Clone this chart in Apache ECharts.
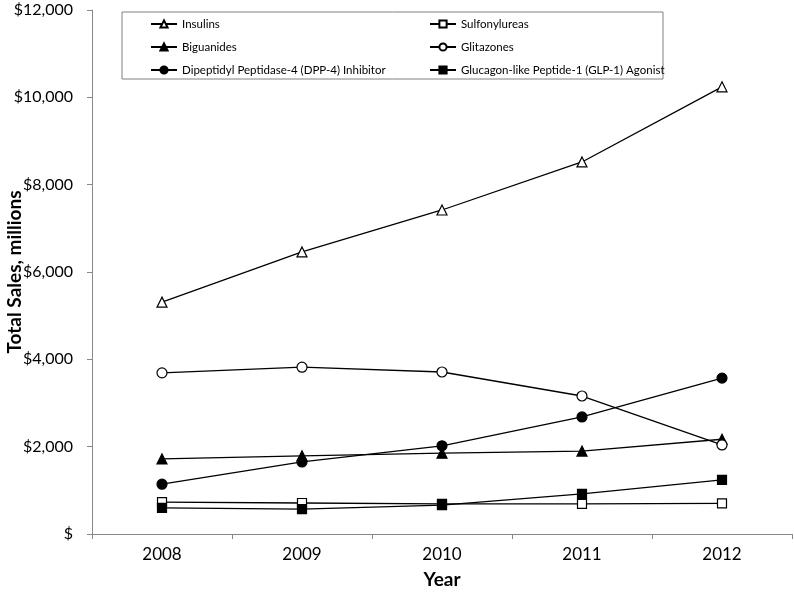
<!DOCTYPE html>
<html><head><meta charset="utf-8">
<script src="https://cdn.jsdelivr.net/npm/echarts@6/dist/echarts.min.js"></script>
<style>html,body{margin:0;padding:0;background:#fff}#c{width:794px;height:595px}</style>
</head><body><div id="c"></div>
<script>
const years = ['2008','2009','2010','2011','2012'];
const insulins = [5310, 6460, 7420, 8520, 10240];
const sulfonylureas = [730, 710, 690, 690, 700];
const biguanides = [1720, 1790, 1850, 1900, 2170];
const glitazones = [3690, 3820, 3710, 3160, 2040];
const dpp4 = [1140, 1650, 2020, 2680, 3570];
const glp1 = [600, 570, 660, 920, 1240];
const yTicks = [0, 2000, 4000, 6000, 8000, 10000, 12000];

const FONT = 'Lato, "Open Sans", sans-serif';
function mk(name, data, symbol, filled, size) {
  return {
    name, type: 'line', data, symbol, symbolSize: size,
    lineStyle: { color: '#000', width: 1.3 },
    itemStyle: { color: filled ? '#000' : '#fff', borderColor: '#000', borderWidth: 1.2 },
    emphasis: { disabled: true }, animation: false
  };
}
const chart = echarts.init(document.getElementById('c'));
chart.setOption({
  animation: false,
  textStyle: { fontFamily: FONT },
  grid: { left: 92, right: 2, top: 10, bottom: 61, containLabel: false, outerBoundsMode: 'none' },
  graphic: [{ type: 'rect', shape: { x: 122, y: 12, width: 541, height: 67 },
    style: { fill: '#fff', stroke: '#808080', lineWidth: 1 }, z: 0 }],
  legend: [
    { data: ['Insulins', 'Biguanides', 'Dipeptidyl Peptidase-4 (DPP-4) Inhibitor'],
      orient: 'vertical', left: 145, top: 13, itemGap: 11, itemWidth: 26, itemHeight: 9,
      textStyle: { fontFamily: FONT, fontSize: 11.5, color: '#000' }, z: 5 },
    { data: ['Sulfonylureas', 'Glitazones', 'Glucagon-like Peptide-1 (GLP-1) Agonist'],
      orient: 'vertical', left: 424, top: 13, itemGap: 11, itemWidth: 26, itemHeight: 9,
      textStyle: { fontFamily: FONT, fontSize: 11.5, color: '#000' }, z: 5 }
  ],
  xAxis: {
    type: 'category', data: years, boundaryGap: true,
    name: 'Year', nameLocation: 'middle', nameGap: 36, nameMoveOverlap: false,
    nameTextStyle: { fontFamily: FONT, fontSize: 19, fontWeight: 'bold', color: '#000' },
    axisLine: { lineStyle: { color: '#888' } },
    axisTick: { show: true, length: 5, lineStyle: { color: '#888' } },
    axisLabel: { fontSize: 17, color: '#000', margin: 12 }
  },
  yAxis: {
    type: 'value', min: 0, max: 12000, interval: 2000,
    name: 'Total Sales, millions', nameLocation: 'middle', nameGap: 68, nameMoveOverlap: false,
    nameTextStyle: { fontFamily: FONT, fontSize: 19, fontWeight: 'bold', color: '#000' },
    splitLine: { show: false },
    axisLine: { show: true, lineStyle: { color: '#888' } },
    axisTick: { show: true, length: 5, lineStyle: { color: '#888' } },
    axisLabel: { fontSize: 16, color: '#000', margin: 19,
      formatter: v => v === 0 ? '$' : '$' + v.toLocaleString('en-US') }
  },
  series: [
    mk('Insulins', insulins, 'triangle', false, 10),
    mk('Sulfonylureas', sulfonylureas, 'rect', false, 9),
    mk('Biguanides', biguanides, 'triangle', true, 10),
    mk('Glitazones', glitazones, 'circle', false, 10),
    mk('Dipeptidyl Peptidase-4 (DPP-4) Inhibitor', dpp4, 'circle', true, 10),
    mk('Glucagon-like Peptide-1 (GLP-1) Agonist', glp1, 'rect', true, 9)
  ]
});
</script></body></html>
